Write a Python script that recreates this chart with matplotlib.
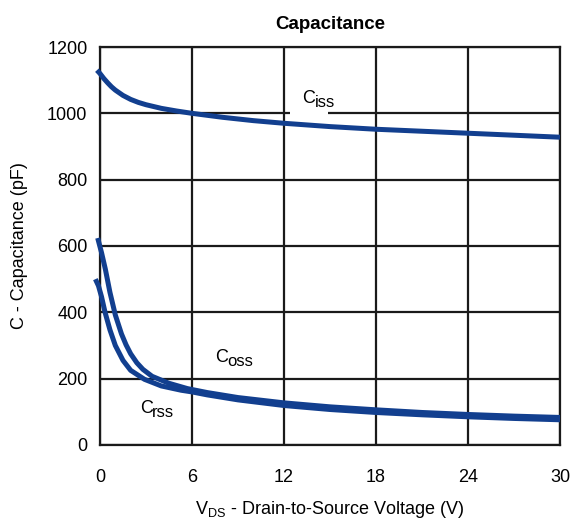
import matplotlib
matplotlib.use("Agg")
import matplotlib.pyplot as plt

plt.rcParams["font.family"] = ["Liberation Sans", "DejaVu Sans"]
plt.rcParams["mathtext.default"] = "regular"

# values
ciss_v = [-0.2, 0, 0.25, 0.5, 0.75, 1, 1.5, 2, 2.5, 3, 4, 5, 6, 8, 10, 12,
          15, 18, 21, 24, 27, 30]
ciss_c = [1130, 1120, 1105, 1092, 1080, 1070, 1054, 1042, 1033, 1026, 1015,
          1007, 1000, 988, 978, 970, 960, 952, 946, 940, 934, 928]

coss_v = [-0.15, 0.1, 0.35, 0.65, 1.0, 1.4, 1.7, 2.0, 2.4, 2.8, 3.4, 4.5,
          5.7, 7, 9, 12, 15, 18, 21, 24, 27, 30]
coss_c = [624, 580, 530, 460, 392, 335, 302, 275, 248, 228, 207, 186,
          170, 158, 143, 127, 115, 106, 98, 92, 87, 83]

crss_v = [-0.3, -0.1, 0.1, 0.33, 0.65, 1.0, 1.5, 2.0, 2.9, 4.0, 5.3, 6, 7,
          9, 12, 15, 18, 21, 24, 27, 30]
crss_c = [500, 480, 447, 400, 347, 300, 255, 225, 198, 178, 165, 160, 151,
          136, 119, 107, 98, 91, 85, 80, 76]

x_ticks = [0, 6, 12, 18, 24, 30]
y_ticks = [0, 200, 400, 600, 800, 1000, 1200]

blue = "#123f8f"

fig = plt.figure(figsize=(5.76, 5.24), dpi=100)
ax = fig.add_axes([0.1736, 0.1508, 0.7986, 0.7595])

for v, c in [(ciss_v, ciss_c), (coss_v, coss_c), (crss_v, crss_c)]:
    ax.plot(v, c, color=blue, lw=3.6, solid_capstyle="butt",
            solid_joinstyle="round", clip_on=False, zorder=3)

ax.set_xlim(0, 30)
ax.set_ylim(0, 1200)
ax.set_xticks(x_ticks)
ax.set_yticks(y_ticks)
ax.grid(True, color="#1a1a1a", lw=1.6, zorder=0)
ax.set_axisbelow(True)
for s in ax.spines.values():
    s.set_color("#1a1a1a")
    s.set_linewidth(1.6)
ax.tick_params(length=0, labelsize=13)
ax.tick_params(axis="x", pad=17)
ax.tick_params(axis="y", pad=9)


def cap_label(x, y, sub, box=False):
    kw = {}
    if box:
        kw["bbox"] = dict(boxstyle="square,pad=0.7", fc="white", ec="none")
    ax.text(x, y, "C", fontsize=13, zorder=4, **kw)
    ax.annotate(sub, (x, y), xytext=(9, -3), textcoords="offset points",
                fontsize=12, zorder=5)


cap_label(13.2, 1031, "iss", box=True)
cap_label(7.5, 250, "oss")
cap_label(2.6, 96, "rss")

ax.set_title("Capacitance", fontsize=13.5, fontweight="bold", pad=13)
ax.set_xlabel("V$_{DS}$ - Drain-to-Source Voltage (V)", fontsize=13, labelpad=10)
ax.set_ylabel("C - Capacitance (pF)", fontsize=13, labelpad=14)

fig.savefig("out.png", dpi=100)
